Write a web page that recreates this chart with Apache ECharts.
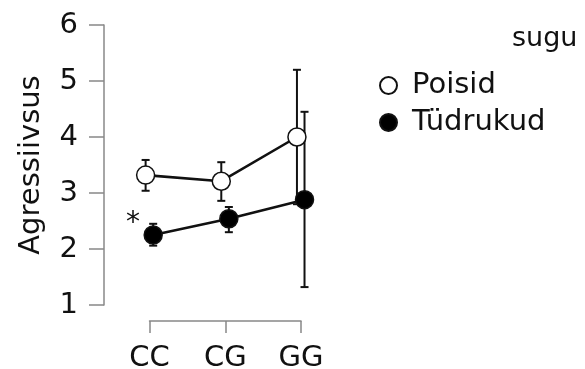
<!DOCTYPE html>
<html><head><meta charset="utf-8">
<script src="https://cdn.jsdelivr.net/npm/echarts@6/dist/echarts.min.js"></script>
<style>html,body{margin:0;padding:0;background:#fff}#c{width:585px;height:369px}</style>
</head><body><div id="c"></div>
<script>
const categories = ['CC', 'CG', 'GG'];
const groups = ['Poisid', 'Tüdrukud'];
const poisidMean = [3.32, 3.21, 4.00];
const poisidLow  = [3.04, 2.86, 2.80];
const poisidHigh = [3.59, 3.55, 5.20];
const tudrukudMean = [2.25, 2.54, 2.88];
const tudrukudLow  = [2.06, 2.30, 1.32];
const tudrukudHigh = [2.45, 2.75, 4.45];
const dodge = [-0.05, 0.05];
const yTicks = [1, 2, 3, 4, 5, 6];

const FONT = 'DejaVu Sans';
const chart = echarts.init(document.getElementById('c'));

function pts(mean, d) { return mean.map((v, i) => [i + d, v]); }
function errs(lo, hi, d) { return lo.map((v, i) => [i + d, v, hi[i]]); }

function errSeries(lo, hi, d) {
  return {
    type: 'custom', xAxisIndex: 0, yAxisIndex: 0, z: 2,
    data: errs(lo, hi, d),
    renderItem: function (params, api) {
      const x = api.value(0);
      const p1 = api.coord([x, api.value(1)]);
      const p2 = api.coord([x, api.value(2)]);
      const w = 4;
      const st = { stroke: '#111', lineWidth: 2 };
      return { type: 'group', children: [
        { type: 'line', shape: { x1: p1[0], y1: p1[1], x2: p2[0], y2: p2[1] }, style: st },
        { type: 'line', shape: { x1: p1[0] - w, y1: p1[1], x2: p1[0] + w, y2: p1[1] }, style: st },
        { type: 'line', shape: { x1: p2[0] - w, y1: p2[1], x2: p2[0] + w, y2: p2[1] }, style: st }
      ]};
    }
  };
}

chart.setOption({
  animation: false,
  textStyle: { fontFamily: FONT },
  grid: [
    { left: 104, top: 25, width: 227, height: 280, outerBoundsMode: 'none', containLabel: false },
    { left: 149.5, top: 300, width: 151.5, height: 21, outerBoundsMode: 'none', containLabel: false }
  ],
  xAxis: [
    { gridIndex: 0, type: 'value', min: -0.6, max: 2.4, show: false },
    { gridIndex: 1, type: 'value', min: 0, max: 2, interval: 1, position: 'bottom',
      axisLine: { show: true, onZero: false, lineStyle: { color: '#888', width: 1.5 } },
      axisTick: { show: true, length: 12, lineStyle: { color: '#888', width: 1.5 } },
      splitLine: { show: false },
      axisLabel: { margin: 23, fontSize: 29, color: '#111', fontFamily: FONT,
        formatter: v => categories[v] !== undefined ? categories[v] : '' } }
  ],
  yAxis: [
    { gridIndex: 0, type: 'value', min: 1, max: 6, interval: 1,
      name: 'Agressiivsus', nameLocation: 'middle', nameGap: 58,
      nameTextStyle: { fontSize: 29, color: '#111', fontFamily: FONT },
      axisLine: { show: true, onZero: false, lineStyle: { color: '#888', width: 1.5 } },
      axisTick: { show: true, length: 15, lineStyle: { color: '#888', width: 1.5 } },
      splitLine: { show: false },
      axisLabel: { margin: 26, fontSize: 29, color: '#111', fontFamily: FONT,
        formatter: v => yTicks.includes(v) ? String(v) : '' } },
    { gridIndex: 1, show: false, min: 0, max: 1 }
  ],
  legend: {
    orient: 'vertical', left: 374, top: 66, itemGap: 8,
    itemWidth: 17, itemHeight: 17,
    textStyle: { fontSize: 29, color: '#111', fontFamily: FONT, padding: [0, 0, 0, 10] },
    data: groups.map(g => ({ name: g, icon: 'circle' }))
  },
  graphic: [
    { type: 'text', left: 512, top: 25, style: { text: 'sugu', font: '27px "DejaVu Sans"', fill: '#111' } },
    { type: 'text', left: 126, top: 210, style: { text: '*', font: '28px "DejaVu Sans"', fill: '#111' } }
  ],
  series: [
    errSeries(poisidLow, poisidHigh, dodge[0]),
    errSeries(tudrukudLow, tudrukudHigh, dodge[1]),
    { name: groups[0], type: 'line', xAxisIndex: 0, yAxisIndex: 0, z: 3,
      data: pts(poisidMean, dodge[0]), symbol: 'circle', symbolSize: 18,
      lineStyle: { color: '#111', width: 2.6 },
      itemStyle: { color: '#fff', borderColor: '#111', borderWidth: 1.5 } },
    { name: groups[1], type: 'line', xAxisIndex: 0, yAxisIndex: 0, z: 4,
      data: pts(tudrukudMean, dodge[1]), symbol: 'circle', symbolSize: 18,
      lineStyle: { color: '#111', width: 2.6 },
      itemStyle: { color: '#000', borderColor: '#111', borderWidth: 1.5 } }
  ]
});
</script></body></html>
